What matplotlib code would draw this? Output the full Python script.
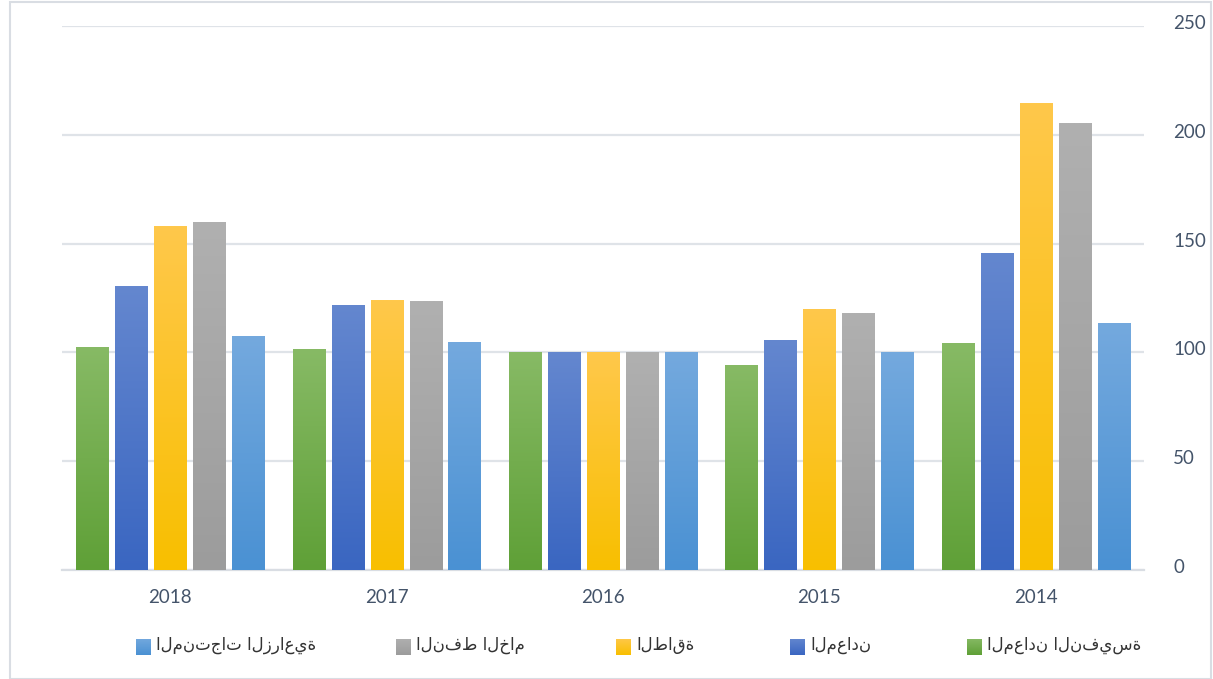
import numpy as np
import matplotlib
matplotlib.use("Agg")
import matplotlib.pyplot as plt
import matplotlib.transforms as mtransforms
from matplotlib.colors import LinearSegmentedColormap
from matplotlib.patches import Rectangle

years = ["2014", "2015", "2016", "2017", "2018"]
series_names = ["المعادن النفيسة", "المعادن", "الطاقة", "النفط الخام", "المنتجات الزراعية"]
precious_metals = [104.3, 94.2, 100, 101.5, 102.5]
metals = [145.7, 105.7, 100, 122, 130.5]
energy = [214.6, 120, 100, 124, 158]
crude_oil = [205.4, 118, 100, 123.6, 160]
agriculture = [113.5, 100, 100, 105, 107.5]
series_values = [precious_metals, metals, energy, crude_oil, agriculture]
yticks = [0, 50, 100, 150, 200, 250]

top_colors = ["#87ba65", "#6487cf", "#ffc84b", "#b0b0b0", "#74a9de"]
bot_colors = ["#5fa037", "#3a66c1", "#f8bf00", "#9c9c9c", "#4a91d3"]

W, H = 1213, 679
fig = plt.figure(figsize=(W / 100, H / 100), dpi=100)
fig.patch.set_facecolor("white")
ax = fig.add_axes([62 / W, 1 - 570 / H, (1144 - 62) / W, (570 - 26) / H])

# frame
fig.patches.append(Rectangle((9.5 / W, 0.0), (1211 - 9.5) / W, 677 / H, transform=fig.transFigure,
                             fill=False, edgecolor="#d9dde3", linewidth=1.5))

n = len(series_values)
pitch = 0.18
width = 0.148
x = np.arange(len(years))
grad = np.linspace(0, 1, 256).reshape(-1, 1)
cmaps = [LinearSegmentedColormap.from_list(f"g{s}", [bot_colors[s], top_colors[s]]) for s in range(n)]
for s, vals in enumerate(series_values):
    offs = (s - (n - 1) / 2) * pitch
    bars = ax.bar(x - offs, vals, width=width, color="none", edgecolor="none", zorder=3)
    for b in bars:
        x0, y0 = b.get_x(), b.get_y()
        w, h = b.get_width(), b.get_height()
        im = ax.imshow(grad, cmap=cmaps[s], origin="lower", aspect="auto",
                       extent=[x0, x0 + w, y0, y0 + h], zorder=3)
        im.set_clip_path(b)

ax.set_xlim(4.5, -0.5)
ax.set_ylim(0, 250)
ax.set_yticks(yticks)
ax.yaxis.tick_right()
ax.set_xticks(x)
ax.set_xticklabels(years)
ax.tick_params(axis="both", length=0, labelsize=13.5, labelcolor="#44546a")
ax.tick_params(axis="y", pad=21)
ax.tick_params(axis="x", pad=14)
shift = mtransforms.ScaledTranslation(0, 4 / 100, fig.dpi_scale_trans)
for lab in ax.get_xticklabels() + ax.get_yticklabels():
    lab.set_fontfamily("Lato")
for lab in ax.get_yticklabels():
    lab.set_transform(lab.get_transform() + shift)
ax.grid(axis="y", color="#dfe3e8", linewidth=1.6, zorder=0)
ax.set_axisbelow(True)
for sp in ["top", "left", "right"]:
    ax.spines[sp].set_visible(False)
ax.spines["bottom"].set_color("#d9dde3")
ax.spines["bottom"].set_linewidth(1.6)

# legend (RTL order, square on left of text)
legend_x = [967, 790, 616, 396, 136]
ly = 645
for s, sx in enumerate(legend_x):
    lax = fig.add_axes([sx / W, 1 - 655 / H, 15 / W, 16 / H])
    lax.imshow(grad, cmap=cmaps[s], origin="lower", aspect="auto", extent=[0, 1, 0, 1])
    lax.set_axis_off()
    fig.text((sx + 20) / W, 1 - ly / H, series_names[s], ha="left", va="center",
             fontsize=12, color="#333333", family=["DejaVu Sans"])

fig.savefig("out.png", dpi=100)
